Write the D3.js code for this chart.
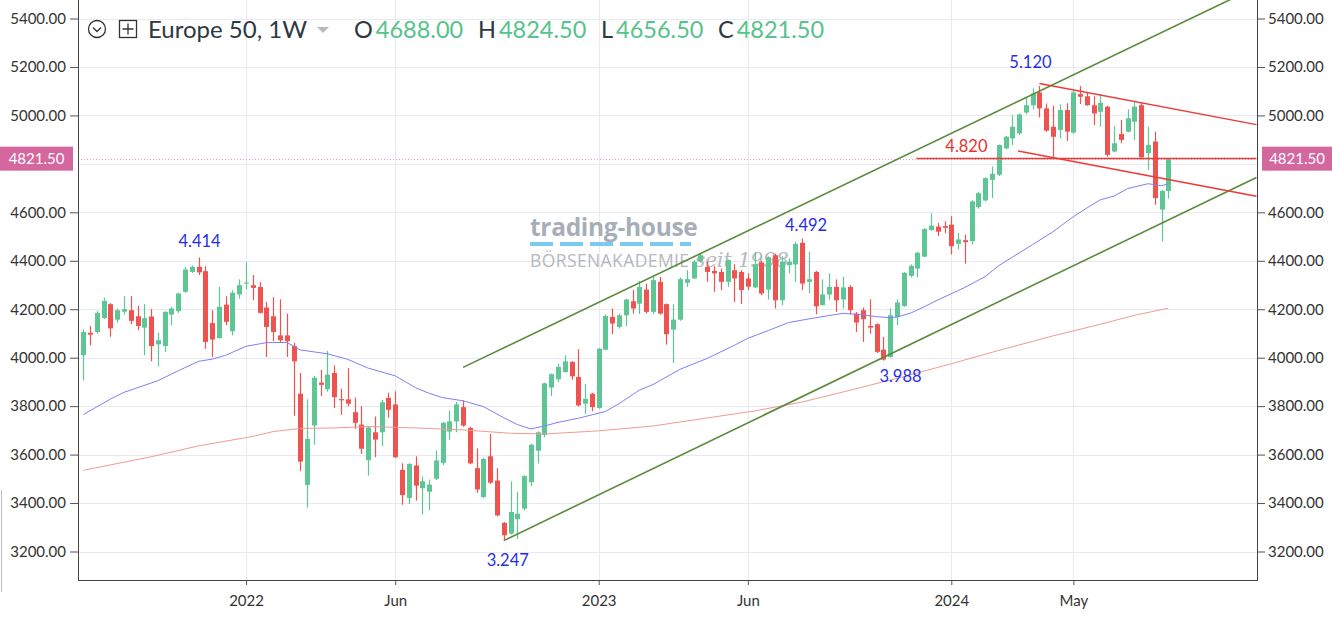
<!DOCTYPE html>
<html>
<head>
<meta charset="utf-8">
<script src="https://cdnjs.cloudflare.com/ajax/libs/d3/7.8.5/d3.min.js"></script>
<style>
  body { margin: 0; background: #fff; }
  svg { display: block; font-family: Lato, "Noto Sans", sans-serif; }
</style>
</head>
<body>
<svg id="chart" width="1332" height="617"></svg>
<script>
// weekly candles, Europe 50, starting week of 2021-07-19
const firstWeek = "2021-07-19";

const opens = [
  4010,4103,4106,4164,4221,4157,4190,4196,4171,4124,
  4170,4055,4048,4178,4192,4272,4354,4375,4357,4143,
  4081,4219,4109,4261,4306,4299,4292,4207,4171,4092,
  4092,4048,3851,3475,3720,3897,3870,3937,3829,3828,
  3775,3724,3577,3692,3692,3834,3807,3537,3421,3555,
  3461,3447,3500,3566,3695,3737,3796,3710,3544,3425,
  3593,3493,3318,3274,3333,3377,3486,3616,3681,3877,
  3911,3941,3982,3920,3810,3851,3792,4033,4168,4127,
  4175,4233,4223,4281,4189,4313,4221,4116,4157,4309,
  4327,4399,4375,4358,4354,4313,4361,4354,4327,4290,
  4393,4281,4423,4237,4382,4385,4474,4313,4354,4217,
  4261,4292,4240,4292,4182,4196,4131,4138,4033,4003,
  4168,4213,4338,4368,4417,4527,4541,4543,4549,4470,
  4485,4481,4622,4649,4734,4755,4864,4905,4926,5012,
  5042,5095,5029,4953,4940,5022,4929,5088,5079,5042,
  5015,5036,4851,4923,4933,4974,5042,4844,4892,4611,
  4688
];
const highs = [
  4117,4131,4192,4248,4225,4203,4254,4254,4215,4221,
  4201,4103,4192,4210,4268,4375,4380,4414,4378,4196,
  4292,4254,4279,4323,4395,4341,4313,4230,4250,4241,
  4182,4061,3937,3828,3925,3950,4028,3968,3872,3957,
  3835,3800,3717,3757,3826,3855,3861,3564,3565,3593,
  3509,3497,3617,3735,3782,3817,3823,3715,3626,3586,
  3685,3544,3322,3490,3445,3515,3645,3696,3897,3935,
  3975,4010,3986,4035,3892,3855,4040,4178,4203,4182,
  4243,4279,4317,4306,4334,4334,4224,4221,4331,4361,
  4403,4428,4396,4378,4368,4405,4386,4361,4348,4437,
  4399,4418,4430,4419,4410,4479,4492,4437,4358,4323,
  4348,4323,4334,4299,4189,4207,4241,4142,4086,4203,
  4241,4354,4385,4437,4535,4596,4556,4563,4584,4515,
  4508,4650,4685,4745,4789,4880,4915,5001,5008,5076,
  5111,5121,5049,5040,5045,5050,5104,5121,5097,5079,
  5088,5040,4956,4981,5025,5060,5052,4953,4933,4693,
  4824.5
];
const lows = [
  3906,4051,4099,4160,4086,4145,4178,4138,4113,4010,
  3985,3964,4024,4134,4185,4268,4350,4341,4037,4003,
  4079,4134,4092,4244,4281,4237,4182,4003,4068,4065,
  4003,3760,3531,3382,3641,3841,3860,3792,3764,3799,
  3706,3603,3513,3589,3635,3752,3585,3393,3396,3410,
  3353,3371,3495,3557,3661,3692,3715,3560,3442,3420,
  3479,3345,3247,3270,3251,3370,3470,3564,3671,3842,
  3899,3938,3909,3799,3768,3779,3790,4030,4097,4120,
  4130,4182,4180,4182,4180,4178,4054,3978,4152,4292,
  4325,4396,4313,4272,4279,4292,4230,4221,4279,4288,
  4258,4240,4203,4217,4348,4313,4279,4265,4179,4215,
  4240,4189,4203,4179,4106,4065,4099,4019,3988,4000,
  4134,4210,4331,4331,4415,4524,4502,4515,4426,4447,
  4388,4467,4615,4645,4659,4750,4860,4878,4919,5005,
  5025,4992,4933,4820,4905,4894,4925,5047,5040,4960,
  4953,4830,4848,4885,4930,4899,4822,4775,4631,4480,
  4656.5
];
const closes = [
  4106,4095,4185,4234,4121,4196,4200,4152,4131,4163,
  4048,4072,4189,4203,4265,4364,4375,4352,4065,4075,
  4210,4148,4268,4299,4310,4288,4185,4127,4106,4072,
  4068,3985,3571,3665,3917,3888,3930,3837,3824,3810,
  3731,3624,3712,3662,3816,3785,3589,3433,3561,3472,
  3490,3476,3576,3731,3737,3807,3720,3564,3456,3582,
  3484,3349,3267,3363,3356,3511,3641,3692,3894,3932,
  3962,3985,3923,3803,3830,3796,4037,4172,4141,4175,
  4240,4203,4292,4189,4320,4182,4097,4157,4324,4324,
  4396,4423,4354,4348,4313,4403,4327,4279,4293,4386,
  4265,4414,4237,4396,4396,4469,4306,4324,4212,4261,
  4292,4237,4290,4196,4145,4159,4124,4024,3992,4175,
  4228,4350,4379,4433,4531,4545,4520,4536,4460,4488,
  4477,4645,4679,4741,4759,4878,4912,4953,5004,5042,
  5090,5029,4937,4912,5022,4933,5095,5077,5042,5008,
  5052,4837,4885,4899,4988,5036,4827,4878,4659,4688,
  4821.5
];

// moving averages: candle number (1 = first week) and value
const maFastWeek  = [1,5,7,12,15,18,20,22,25,28,31,33,37,40,43,47,50,52,54,57,60,63,65,67,69,71,74,78,80,83,85,89,93,97,99,102,105,108,111,113,116,118,120,121,123,125,127,131,134,136,138,141,144,147,149,151,153,155,158,160,161];
const maFastValue = [3765,3829,3857,3905,3946,3985,3994,4010,4047,4062,4063,4032,4016,3993,3957,3925,3876,3853,3835,3822,3798,3752,3724,3706,3718,3733,3750,3778,3810,3866,3889,3952,3997,4051,4080,4112,4145,4160,4174,4183,4177,4169,4165,4168,4184,4210,4238,4290,4335,4380,4415,4467,4520,4582,4618,4652,4667,4698,4718,4710,4717];
const maSlowWeek  = [1,11,18,26,29,33,38,43,50,57,64,69,77,85,92,100,107,114,122,129,136,144,151,156,161];
const maSlowValue = [3535,3591,3636,3675,3695,3708,3710,3716,3710,3702,3688,3685,3698,3718,3747,3780,3817,3865,3922,3975,4030,4090,4138,4175,4204];

// drawn trend lines: [date, price] end points
const channelUpper = [["2022-08-15", 3960], ["2024-11-11", 5530]];
const channelLower = [["2022-09-26", 3245], ["2024-11-11", 4744]];
const redTop       = [["2024-04-01", 5132], ["2024-11-11", 4962]];
const redFlat      = [["2023-11-26", 4822], ["2024-11-11", 4822]];
const redBottom    = [["2024-03-10", 4853], ["2024-11-11", 4666]];

// swing labels: text, candle number, price
const swingText  = ["4.414", "3.247", "4.492", "3.988", "5.120"];
const swingWeek  = [18, 63, 107, 119, 142];
const swingPrice = [4414, 3247, 4492, 3988, 5121];

const yTicks = [3200,3400,3600,3800,4000,4200,4400,4600,4800,5000,5200,5400];
const xTickDates  = ["2022-01-03","2022-06-06","2023-01-02","2023-06-05","2024-01-01","2024-05-06"];
const xTickLabels = ["2022","Jun","2023","Jun","2024","May"];

const lastPrice = 4821.5;
const header = { name: "Europe 50, 1W", O: "4688.00", H: "4824.50", L: "4656.50", C: "4821.50" };

// ---------------------------------------------------------------
const upColor = "#5ec694", downColor = "#ef5350";
const gridColor = "#e9e9f4";
const pL = 78, pR = 1257, pT = 0, pB = 580;

const svg = d3.select("#chart");
const parse = d3.utcParse("%Y-%m-%d");
const start = parse(firstWeek);
const weekDate = i => d3.utcMonday.offset(start, i - 1);
const dates = opens.map((_, i) => weekDate(i + 1));
const candles = dates.map((d, i) => ({ date: d, o: opens[i], h: highs[i], l: lows[i], c: closes[i] }));

const x = d3.scaleUtc().domain([dates[0], dates[dates.length - 1]]).range([83.3, 1168.3]);
const y = d3.scaleLinear().domain([3200, 5400]).range([551.5, 18.5]);

svg.append("defs").append("clipPath").attr("id", "clip")
  .append("rect").attr("x", pL).attr("y", pT).attr("width", pR - pL).attr("height", pB - pT);

// grid
const grid = svg.append("g");
grid.selectAll("line.h").data(yTicks).join("line")
  .attr("x1", pL).attr("x2", pR)
  .attr("y1", d => Math.round(y(d)) + 0.5).attr("y2", d => Math.round(y(d)) + 0.5)
  .attr("stroke", gridColor);
grid.selectAll("line.v").data(xTickDates).join("line")
  .attr("x1", d => Math.round(x(parse(d))) + 0.5).attr("x2", d => Math.round(x(parse(d))) + 0.5)
  .attr("y1", pT).attr("y2", pB)
  .attr("stroke", gridColor);

// watermark
const wm = svg.append("g").attr("opacity", 0.85);
wm.append("text").attr("x", 530).attr("y", 236)
  .attr("font-size", 24.5).attr("font-weight", 700).attr("fill", "#97a2ad")
  .attr("font-family", "'Open Sans', Lato, sans-serif").attr("letter-spacing", -0.3)
  .text("trading-house");
wm.append("line").attr("x1", 530).attr("x2", 691).attr("y1", 244).attr("y2", 244)
  .attr("stroke", "#63c3ee").attr("stroke-width", 4).attr("stroke-dasharray", "23,7");
wm.append("text").attr("x", 530).attr("y", 267)
  .attr("font-size", 17.5).attr("fill", "#a9adb2").attr("letter-spacing", 0.4)
  .attr("font-family", "'Open Sans', Lato, sans-serif")
  .text("BÖRSENAKADEMIE");
wm.append("text").attr("x", 695).attr("y", 267)
  .attr("font-size", 20).attr("font-style", "italic").attr("fill", "#a9adb2")
  .attr("font-family", "'DejaVu Serif', serif")
  .text("seit 1998");

const plot = svg.append("g").attr("clip-path", "url(#clip)");

// candles
plot.selectAll("line.wick").data(candles).join("line")
  .attr("x1", d => Math.round(x(d.date)) + 0.5).attr("x2", d => Math.round(x(d.date)) + 0.5)
  .attr("y1", d => y(d.h)).attr("y2", d => y(d.l))
  .attr("stroke", d => d.c >= d.o ? upColor : downColor).attr("stroke-width", 1.2);
plot.selectAll("rect.body").data(candles).join("rect")
  .attr("x", d => Math.round(x(d.date)) - 2).attr("width", 5)
  .attr("y", d => y(Math.max(d.o, d.c)))
  .attr("height", d => Math.max(1, Math.abs(y(d.o) - y(d.c))))
  .attr("fill", d => d.c >= d.o ? upColor : downColor);

// moving averages
const maLine = d3.line().x(d => x(weekDate(d[0]))).y(d => y(d[1]));
plot.append("path").datum(maSlowWeek.map((w, i) => [w, maSlowValue[i]]))
  .attr("d", maLine).attr("fill", "none").attr("stroke", "#f29a94").attr("stroke-width", 1);
plot.append("path").datum(maFastWeek.map((w, i) => [w, maFastValue[i]]))
  .attr("d", maLine).attr("fill", "none").attr("stroke", "#7f7ff5").attr("stroke-width", 1);

// price line
plot.append("line").attr("x1", pL).attr("x2", pR)
  .attr("y1", Math.round(y(lastPrice)) + 0.5).attr("y2", Math.round(y(lastPrice)) + 0.5)
  .attr("stroke", "#e4a3c6").attr("stroke-dasharray", "1,2");

// trend lines
const tl = d3.line().x(d => x(parse(d[0]))).y(d => y(d[1]));
[channelUpper, channelLower].forEach(seg => plot.append("path").datum(seg)
  .attr("d", tl).attr("stroke", "#5b8a3c").attr("stroke-width", 1.6).attr("fill", "none"));
[redTop, redFlat, redBottom].forEach(seg => plot.append("path").datum(seg)
  .attr("d", tl).attr("stroke", "#ec3b35").attr("stroke-width", 1.5).attr("fill", "none"));

// swing labels
const labelShift = [[1, -10], [4, 26], [4, -7], [17, 21], [-9, -18]];
svg.append("g").selectAll("text").data(swingText).join("text")
  .attr("x", (d, i) => x(weekDate(swingWeek[i])) + labelShift[i][0])
  .attr("y", (d, i) => y(swingPrice[i]) + labelShift[i][1])
  .attr("text-anchor", "middle").attr("font-size", 16.5).attr("fill", "#1f2fe8")
  .text(d => d);
svg.append("text").attr("x", x(parse(redFlat[0][0])) + 50).attr("y", y(redFlat[0][1]) - 7)
  .attr("text-anchor", "middle").attr("font-size", 16.5).attr("fill", "#e8322d")
  .text("4.820");

// axes (the tick hidden behind the last-price tag is left out)
const fmt = d => d.toFixed(2);
const tagY = y(lastPrice);
const labelTicks = yTicks.filter(v => Math.abs(y(v) - tagY) > 14);
const yl = svg.append("g").attr("transform", `translate(${pL},0)`)
  .call(d3.axisLeft(y).tickValues(labelTicks).tickFormat(fmt).tickSize(8).tickPadding(4));
const yr = svg.append("g").attr("transform", `translate(${pR},0)`)
  .call(d3.axisRight(y).tickValues(labelTicks).tickFormat(fmt).tickSize(8).tickPadding(3));
const xb = svg.append("g").attr("transform", `translate(0,${pB})`)
  .call(d3.axisBottom(x).tickValues(xTickDates.map(parse))
    .tickFormat((d, i) => xTickLabels[i]).tickSize(5).tickPadding(10));
[yl, yr, xb].forEach(g => {
  g.select(".domain").remove();
  g.selectAll(".tick line").attr("stroke", "#555");
  g.selectAll(".tick text").attr("fill", "#333").attr("font-size", 15)
    .attr("font-family", "Lato, 'Noto Sans', sans-serif");
});
svg.append("line").attr("x1", pL + 0.5).attr("x2", pL + 0.5).attr("y1", 0).attr("y2", pB)
  .attr("stroke", "#444");
svg.append("line").attr("x1", pR + 0.5).attr("x2", pR + 0.5).attr("y1", 0).attr("y2", pB)
  .attr("stroke", "#444");
svg.append("line").attr("x1", pL).attr("x2", pR + 1).attr("y1", pB + 0.5).attr("y2", pB + 0.5)
  .attr("stroke", "#444");
svg.append("line").attr("x1", 1.5).attr("x2", 1.5).attr("y1", 490).attr("y2", 592)
  .attr("stroke", "#bbb");

// last price tags
[[0, 73], [1262, 70]].forEach(([tx, tw]) => {
  svg.append("rect").attr("x", tx).attr("y", tagY - 12).attr("width", tw).attr("height", 24)
    .attr("fill", "#d5679f");
  svg.append("text").attr("x", tx + tw / 2).attr("y", tagY + 5.5).attr("text-anchor", "middle")
    .attr("fill", "#fff").attr("font-size", 15).text(lastPrice.toFixed(2));
});

// header
const hd = svg.append("g");
hd.append("circle").attr("cx", 97).attr("cy", 29).attr("r", 8.5)
  .attr("fill", "none").attr("stroke", "#333").attr("stroke-width", 1.3);
hd.append("path").attr("d", "M93,27.5 L97,31.5 L101,27.5")
  .attr("fill", "none").attr("stroke", "#333").attr("stroke-width", 1.3);
hd.append("rect").attr("x", 119.5).attr("y", 20.5).attr("width", 17).attr("height", 17)
  .attr("fill", "none").attr("stroke", "#333").attr("stroke-width", 1.3);
hd.append("path").attr("d", "M128,23.5 V34.5 M122.5,29 H133.5")
  .attr("stroke", "#333").attr("stroke-width", 1.3);
hd.append("text").attr("x", 148).attr("y", 38).attr("font-size", 24).attr("fill", "#2c3842")
  .text(header.name);
hd.append("path").attr("d", "M317,27 L329,27 L323,33 Z").attr("fill", "#b6babe");
const hx = { O: 354, H: 478, L: 601, C: 718 };
Object.keys(hx).forEach(k => {
  const t = hd.append("text").attr("x", hx[k]).attr("y", 38).attr("font-size", 23.5);
  t.append("tspan").attr("fill", "#2c3842").text(k);
  t.append("tspan").attr("fill", "#55c38a").attr("dx", 3).text(header[k]);
});
</script>
</body>
</html>
